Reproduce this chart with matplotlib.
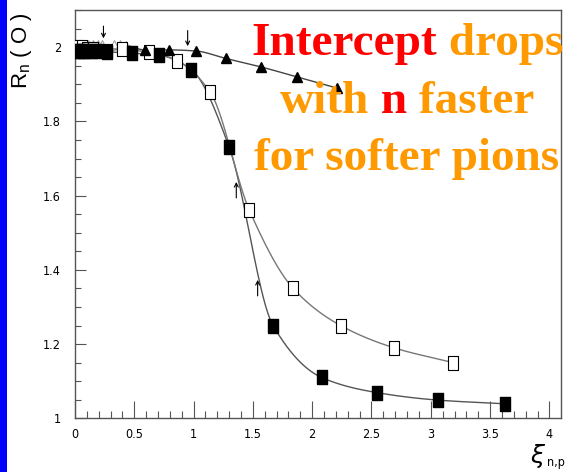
import numpy as np
import matplotlib
matplotlib.use("Agg")
import matplotlib.pyplot as plt
from matplotlib.patches import Rectangle
from matplotlib.ticker import MultipleLocator

# ---- data -------------------------------------------------------------
filled_x = [0.01, 0.04, 0.07, 0.10, 0.14, 0.19, 0.27, 0.48, 0.71, 0.98,
            1.30, 1.67, 2.08, 2.55, 3.06, 3.63]
filled_y = [1.990, 1.990, 1.990, 1.990, 1.990, 1.990, 1.988, 1.984, 1.979, 1.940,
            1.731, 1.250, 1.110, 1.069, 1.049, 1.039]

open_x = [0.02, 0.06, 0.10, 0.15, 0.27, 0.40, 0.62, 0.86, 1.14, 1.47,
          1.84, 2.24, 2.69, 3.19]
open_y = [2.000, 2.000, 1.996, 1.995, 1.991, 1.995, 1.986, 1.964, 1.879, 1.561,
          1.350, 1.250, 1.190, 1.150]

tri_x = [0.59, 0.79, 1.02, 1.27, 1.57, 1.87, 2.21]
tri_y = [1.993, 1.993, 1.990, 1.970, 1.947, 1.920, 1.890]

tri_low_x = [0.03, 0.07, 0.11, 0.15, 0.19, 0.23, 0.33, 0.38, 0.43]
tri_low_y = [2.010, 2.010, 2.010, 2.010, 2.010, 2.010, 2.008, 2.008, 2.006]

# arrows: x, tail y, head y
arrow_x = [0.24, 0.95, 1.36, 1.54]
arrow_tail = [2.057, 2.045, 1.594, 1.330]
arrow_head = [2.024, 2.003, 1.637, 1.373]

x_ticks = [0, 0.5, 1, 1.5, 2, 2.5, 3, 3.5, 4]
x_tick_labels = ["0", "0.5", "1", "1.5", "2", "2.5", "3", "3.5", "4"]
y_ticks = [1.0, 1.2, 1.4, 1.6, 1.8, 2.0]
y_tick_labels = ["1", "1.2", "1.4", "1.6", "1.8", "2"]

RED = "#ff0000"
ORANGE = "#ff9900"
title_lines = [
    [("Intercept", RED), (" drops", ORANGE)],
    [("with", ORANGE), (" n", RED), (" faster", ORANGE)],
    [("for softer pions", ORANGE)],
]


def monotone_curve(x, y, n=400):
    """Monotone cubic Hermite (Fritsch-Carlson) curve through the points."""
    x = np.asarray(x, float)
    y = np.asarray(y, float)
    h = np.diff(x)
    d = np.diff(y) / h
    m = np.zeros_like(x)
    m[0], m[-1] = d[0], d[-1]
    for k in range(1, len(x) - 1):
        if d[k - 1] * d[k] <= 0:
            m[k] = 0.0
        else:
            w1 = 2 * h[k] + h[k - 1]
            w2 = h[k] + 2 * h[k - 1]
            m[k] = (w1 + w2) / (w1 / d[k - 1] + w2 / d[k])
    xs = np.linspace(x[0], x[-1], n)
    idx = np.clip(np.searchsorted(x, xs) - 1, 0, len(x) - 2)
    t = (xs - x[idx]) / h[idx]
    h00 = 2 * t**3 - 3 * t**2 + 1
    h10 = t**3 - 2 * t**2 + t
    h01 = -2 * t**3 + 3 * t**2
    h11 = t**3 - t**2
    ys = (h00 * y[idx] + h10 * h[idx] * m[idx]
          + h01 * y[idx + 1] + h11 * h[idx] * m[idx + 1])
    return xs, ys


W, H = 570, 472
fig = plt.figure(figsize=(W / 100, H / 100), dpi=100)
fig.patch.set_facecolor("white")

# blue strip on the left edge
fig.patches.append(Rectangle((0, 0), 7 / W, 1, transform=fig.transFigure,
                             facecolor="#0000ff", edgecolor="none", zorder=0))

ax = fig.add_axes([75 / W, 1 - 418.3 / H, (561 - 75) / W, (418.3 - 10) / H])
ax.set_xlim(0, 4.098)
ax.set_ylim(1.0, 2.1005)

# fitted curves
cx, cy = monotone_curve(filled_x, filled_y)
ax.plot(cx, cy, color="#555555", lw=1.0, zorder=2)
cx, cy = monotone_curve(open_x, open_y)
ax.plot(cx, cy, color="#777777", lw=1.0, zorder=2)
cx, cy = monotone_curve(tri_low_x[-1:] + tri_x, tri_low_y[-1:] + tri_y)
ax.plot(cx, cy, color="#444444", lw=1.0, zorder=2)

# tall rectangular markers
rect = [(-0.35, -0.5), (0.35, -0.5), (0.35, 0.5), (-0.35, 0.5), (-0.35, -0.5)]
ax.plot(tri_low_x, tri_low_y, ls="none", marker="^", ms=6, mfc="none",
        mec="#999999", mew=0.7, zorder=3)
ax.plot(open_x, open_y, ls="none", marker=rect, ms=10, mfc="white",
        mec="black", mew=0.8, zorder=4)
ax.plot(filled_x, filled_y, ls="none", marker=rect, ms=9.5, mfc="black",
        mec="black", zorder=5)
ax.plot(tri_x, tri_y, ls="none", marker="^", ms=7.5, mfc="black",
        mec="black", zorder=5)

for xa, yt, yh in zip(arrow_x, arrow_tail, arrow_head):
    ax.annotate("", xy=(xa, yh), xytext=(xa, yt),
                arrowprops=dict(arrowstyle="->", color="black", lw=0.8,
                                shrinkA=0, shrinkB=0, mutation_scale=7),
                zorder=6)

# axes styling
for sp in ax.spines.values():
    sp.set_color("#555555")
    sp.set_linewidth(1.0)
tick_font = dict(family="DejaVu Sans", stretch="condensed", size=9)
ax.set_xticks(x_ticks)
ax.set_xticklabels(x_tick_labels, fontdict=tick_font)
ax.set_yticks(y_ticks)
ax.set_yticklabels(y_tick_labels, fontdict=tick_font)
ax.xaxis.set_minor_locator(MultipleLocator(0.1))
ax.yaxis.set_minor_locator(MultipleLocator(0.05))
ax.tick_params(axis="x", which="major", direction="in", length=12, width=0.8,
               color="#555555", pad=7)
ax.tick_params(axis="x", which="minor", direction="in", length=5, width=0.8,
               color="#555555")
ax.tick_params(axis="y", which="major", direction="in", length=8, width=0.8,
               color="#555555", pad=10)
ax.tick_params(axis="y", which="minor", direction="in", length=4, width=0.8,
               color="#555555")

# axis titles
fig.text(22 / W, 1 - 12 / H, r"R$_{\mathregular{n}}$ ( O )", rotation=90,
         ha="center", va="top", fontsize=16,
         family=["Liberation Sans"])
fig.text(530 / W, 1 - 470 / H, r"$\xi$", ha="left", va="bottom", fontsize=18)
fig.text(547 / W, 1 - 469 / H, "n,p", ha="left", va="bottom", fontsize=9,
         family="DejaVu Sans", stretch="condensed")

# multi-coloured annotation text, centred per line
renderer = fig.canvas.get_renderer()
baselines = [55, 113, 170]
center_px = 407
txt_kw = dict(family=["Liberation Serif"], weight="bold", size=34,
              va="baseline", ha="left")
for line, base in zip(title_lines, baselines):
    objs = []
    widths = []
    for s, c in line:
        t = fig.text(0, 1 - base / H, s, color=c, **txt_kw)
        objs.append(t)
        widths.append(t.get_window_extent(renderer).width)
    x0 = center_px - sum(widths) / 2
    for t, w in zip(objs, widths):
        t.set_x(x0 / W)
        x0 += w

fig.savefig("out.png", dpi=100)
